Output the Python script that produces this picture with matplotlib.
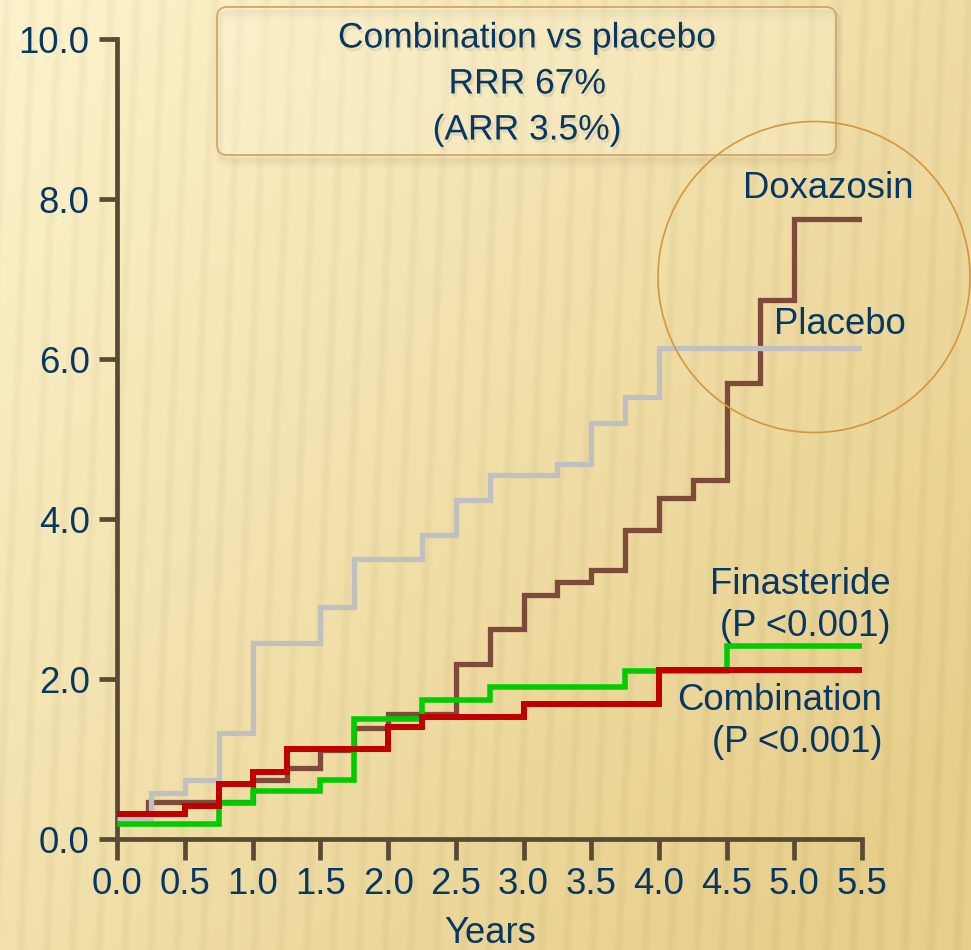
import numpy as np
import matplotlib
matplotlib.use("Agg")
import matplotlib.pyplot as plt
from matplotlib.patches import FancyBboxPatch, Ellipse
import matplotlib.patheffects as pe

plt.rcParams['font.family'] = ['Liberation Sans', 'DejaVu Sans']

# cumulative incidence (%) by year, step changes
placebo_t = [0, 0.25, 0.5, 0.75, 1.0, 1.5, 1.75, 2.25, 2.5, 2.75, 3.25, 3.5, 3.75, 4.0]
placebo_v = [0.27, 0.58, 0.74, 1.33, 2.45, 2.90, 3.50, 3.80, 4.24, 4.55, 4.69, 5.20, 5.53, 6.14]

doxazosin_t = [0, 0.23, 1.0, 1.25, 1.5, 1.75, 2.0, 2.5, 2.75, 3.0, 3.25, 3.5, 3.75, 4.0, 4.25, 4.5, 4.75, 5.0]
doxazosin_v = [0.32, 0.47, 0.74, 0.89, 1.12, 1.39, 1.57, 2.19, 2.63, 3.05, 3.22, 3.37, 3.87, 4.27, 4.49, 5.70, 6.74, 7.76]

finasteride_t = [0, 0.75, 1.0, 1.5, 1.75, 2.25, 2.75, 3.75, 4.5]
finasteride_v = [0.19, 0.46, 0.60, 0.74, 1.50, 1.74, 1.90, 2.10, 2.42]

combination_t = [0, 0.5, 0.75, 1.0, 1.25, 2.0, 2.25, 3.0, 4.0]
combination_v = [0.32, 0.42, 0.69, 0.84, 1.13, 1.40, 1.53, 1.69, 2.12]

t_end = 5.5
x_ticks = np.arange(0, 5.51, 0.5)
y_ticks = np.arange(0, 10.01, 2.0)

W, H = 971, 950
navy = '#073763'
axis_col = '#574B36'
fs = 26.3      # ticks and curve labels
fs_box = 25.5  # callout text

fig = plt.figure(figsize=(W / 100, H / 100), dpi=100)

# background: warm gradient with soft vertical stripes
bg = fig.add_axes([0, 0, 1, 1], zorder=0)
X, Y = np.meshgrid(np.arange(W), np.arange(H))
g = np.clip(0.6 * X / W + 0.5 * Y / H, 0, 1)[..., None]
c1 = np.array([253, 243, 204]) / 255
c2 = np.array([231, 206, 138]) / 255
img = c1 * (1 - g) + c2 * g
stripe = np.sin(2 * np.pi * (X + 0.04 * Y) / 26.0)
img = img - (0.028 * np.clip(stripe, 0, None) ** 1.5)[..., None]
bg.imshow(np.clip(img, 0, 1), aspect='auto', extent=(0, W, H, 0))
bg.set_axis_off()

ax = fig.add_axes([117.3 / W, (H - 839.3) / H, 744.7 / W, 800 / H], zorder=2)
ax.patch.set_alpha(0)


def stairs(t, v, color, lw, z):
    ax.step(list(t) + [t_end], list(v) + [v[-1]], where='post', color=color,
            lw=lw, solid_joinstyle='miter', solid_capstyle='butt', zorder=z)


stairs(doxazosin_t, doxazosin_v, '#7E4A3B', 3.8, 3)
stairs(placebo_t, placebo_v, '#C0C0C0', 3.8, 4)
stairs(finasteride_t, finasteride_v, '#00CC00', 4.0, 5)
stairs(combination_t, combination_v, '#C00000', 4.3, 6)

ax.set_xlim(0, 5.5)
ax.set_ylim(0, 10)
ax.set_xticks(x_ticks)
ax.set_yticks(y_ticks)
ax.set_xticklabels([f'{v:.1f}' for v in x_ticks])
ax.set_yticklabels([f'{v:.1f}' for v in y_ticks])
for s in ['top', 'right']:
    ax.spines[s].set_visible(False)
for s in ['left', 'bottom']:
    ax.spines[s].set_color(axis_col)
    ax.spines[s].set_linewidth(3.4)
ax.tick_params(axis='y', direction='out', length=13, width=3.4, color=axis_col,
               labelsize=fs, labelcolor=navy, pad=7)
ax.tick_params(axis='x', direction='out', length=15, width=3.4, color=axis_col,
               labelsize=fs, labelcolor=navy, pad=5)
ax.set_xlabel('Years', fontsize=fs, color=navy, labelpad=10)

# curve labels
ax.text(5.88, 8.13, 'Doxazosin', fontsize=fs, color=navy, ha='right', va='center')
ax.text(5.82, 6.44, 'Placebo', fontsize=fs, color=navy, ha='right', va='center')
ax.text(5.71, 2.92, 'Finasteride\n(P <0.001)', fontsize=fs, color=navy,
        ha='right', va='center', multialignment='right', linespacing=1.24)
ax.text(5.65, 1.47, 'Combination\n(P <0.001)', fontsize=fs, color=navy,
        ha='right', va='center', multialignment='right', linespacing=1.24)

# overlay in pixel space for the callout box and the highlight circle
ov = fig.add_axes([0, 0, 1, 1], zorder=3)
ov.set_xlim(0, W)
ov.set_ylim(H, 0)
ov.set_axis_off()
ov.patch.set_alpha(0)

for k, a in enumerate([0.05, 0.04, 0.03]):
    ov.add_patch(FancyBboxPatch((217 + 2, 7 + 4 + 2 * k), 619, 148,
                                boxstyle='round,pad=0,rounding_size=10',
                                fc='none', ec='#8a7a5a', lw=3 + 2 * k, alpha=a))
ov.add_patch(FancyBboxPatch((217, 7), 619, 148,
                            boxstyle='round,pad=0,rounding_size=10',
                            fc='#fff8e0', alpha=0.25, ec='none'))
ov.add_patch(FancyBboxPatch((217, 7), 619, 148,
                            boxstyle='round,pad=0,rounding_size=10',
                            fc='none', ec='#D3A56A', lw=1.3))
shadow = [pe.withSimplePatchShadow(offset=(1.5, -2.5), shadow_rgbFace='#6b6250', alpha=0.13)]
for txt, yy in [('Combination vs placebo', 38), ('RRR 67%', 84), ('(ARR 3.5%)', 130)]:
    ov.text(527, yy, txt, fontsize=fs_box, color=navy, ha='center', va='center',
            path_effects=shadow)

ov.add_patch(Ellipse((814, 277), 312, 311, fc='none', ec='#D4963E', lw=1.2))

fig.savefig('out.png', dpi=100)
